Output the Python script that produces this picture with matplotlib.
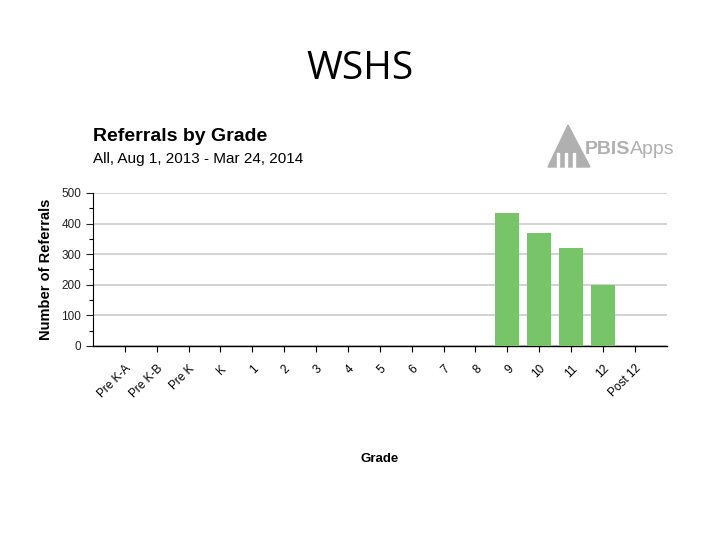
import numpy as np
import matplotlib.pyplot as plt
from matplotlib.patches import Polygon, Rectangle
from matplotlib.ticker import MultipleLocator

grades = ['Pre K-A', 'Pre K-B', 'Pre K', 'K', '1', '2', '3', '4', '5', '6',
          '7', '8', '9', '10', '11', '12', 'Post 12']
referrals = [0, 0, 0, 0, 0, 0, 0, 0, 0, 0, 0, 0, 436, 368, 321, 200, 0]

plt.rcParams['font.family'] = ['Liberation Sans', 'DejaVu Sans']

fig = plt.figure(figsize=(7.2, 5.4), dpi=100)
ax = fig.add_axes([0.129, 0.3593, 0.797, 0.2833])

x = np.arange(len(grades))
ax.bar(x, referrals, width=0.75, color='#78c469', zorder=3)

ax.set_xlim(-1, len(grades))
ax.set_ylim(0, 500)
ax.yaxis.set_major_locator(MultipleLocator(100))
ax.yaxis.set_minor_locator(MultipleLocator(50))
ax.grid(axis='y', color='#d0d0d0', linewidth=1.3, zorder=0)

ax.set_xticks(x)
ax.set_xticklabels(grades, rotation=45, ha='right', rotation_mode='anchor', fontsize=8.5)
ax.tick_params(axis='x', length=4, width=0.8, pad=8)
ax.tick_params(axis='y', which='major', length=5, width=0.8, labelsize=8.5, colors='#222222')
ax.tick_params(axis='y', which='minor', length=3, width=0.8)
for s in ['top', 'right']:
    ax.spines[s].set_visible(False)
ax.spines['left'].set_linewidth(0.8)
ax.spines['bottom'].set_linewidth(1.0)

ax.set_ylabel('Number of Referrals', fontsize=10.5, fontweight='bold')
ax.yaxis.set_label_coords(-0.07, 0.5)
ax.set_xlabel('Grade', fontsize=9.5, fontweight='bold')
ax.xaxis.set_label_coords(0.5, -0.70)

fig.text(0.5, 0.873, 'WSHS', ha='center', va='center', fontsize=28, family='Open Sans')
fig.text(0.129, 0.747, 'Referrals by Grade', fontsize=14, fontweight='bold', va='center')
fig.text(0.129, 0.706, 'All, Aug 1, 2013 - Mar 24, 2014', fontsize=11, va='center')

# logo
logo = '#b0b0b0'
fig.patches.append(Polygon([[548 / 720, 1 - 167 / 540], [568 / 720, 1 - 125 / 540],
                            [590 / 720, 1 - 167 / 540]], closed=True,
                           transform=fig.transFigure, color=logo))
for bx in [557, 565, 573]:
    fig.patches.append(Rectangle((bx / 720, 1 - 167 / 540), 2 / 720, 14 / 540,
                                 transform=fig.transFigure, color='white'))
t1 = fig.text(585 / 720, 1 - 149 / 540, 'PBIS', fontsize=14, fontweight='bold',
              color=logo, va='center')
fig.canvas.draw()
bb = t1.get_window_extent()
fig.text(bb.x1 / 720, 1 - 149 / 540, 'Apps', fontsize=14, color=logo, va='center')

fig.savefig('out.png', dpi=100)
